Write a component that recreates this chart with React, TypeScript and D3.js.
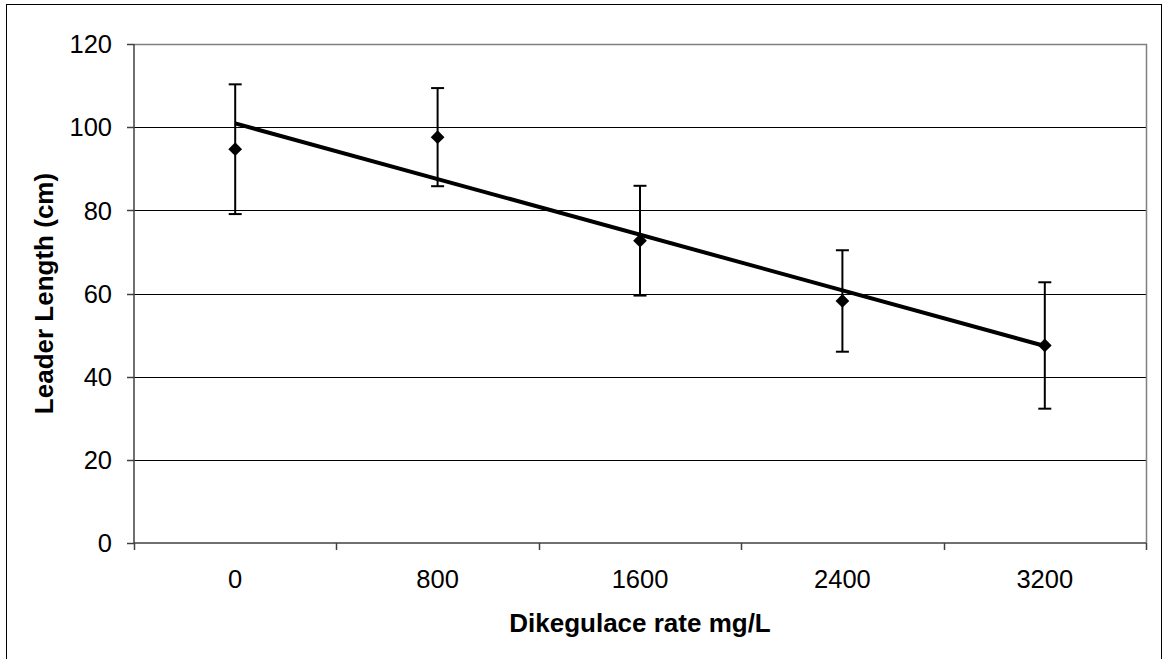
import React, { useEffect, useRef } from 'react';
import * as d3 from 'd3';

const categories = ['0', '800', '1600', '2400', '3200'];
const means = [94.7, 97.6, 72.7, 58.2, 47.5];
const errors = [15.6, 11.8, 13.2, 12.2, 15.2];
const yTicks = [0, 20, 40, 60, 80, 100, 120];

const width = 1163;
const height = 659;
const font = 'Liberation Sans, Arial, sans-serif';

export default function App() {
  const ref = useRef<SVGSVGElement>(null);

  useEffect(() => {
    const svg = d3.select(ref.current);
    svg.selectAll('*').remove();

    const left = 134;
    const right = 1146;
    const top = 44;
    const bottom = 543;

    const x = d3.scaleBand().domain(categories).range([left, right]).padding(0);
    const y = d3.scaleLinear().domain([0, 120]).range([bottom, top]);
    const cx = (c: string) => (x(c) as number) + x.bandwidth() / 2;

    // outer chart border
    svg
      .append('rect')
      .attr('x', 6.5)
      .attr('y', 4.5)
      .attr('width', 1155)
      .attr('height', 700)
      .attr('fill', 'none')
      .attr('stroke', '#000')
      .attr('stroke-width', 1);

    // gridlines
    svg
      .append('g')
      .selectAll('line')
      .data(yTicks.filter((t) => t > 0 && t < 120))
      .enter()
      .append('line')
      .attr('x1', left)
      .attr('x2', right)
      .attr('y1', (d) => Math.round(y(d)) + 0.5)
      .attr('y2', (d) => Math.round(y(d)) + 0.5)
      .attr('stroke', '#000')
      .attr('stroke-width', 1);

    // plot border top / right
    svg
      .append('path')
      .attr('d', `M${left},${top + 0.5}H${right + 0.5}V${bottom}`)
      .attr('fill', 'none')
      .attr('stroke', '#808080')
      .attr('stroke-width', 1.5);

    // y axis
    const yAxis = svg.append('g').attr('transform', `translate(${left},0)`);
    yAxis
      .append('line')
      .attr('x1', 0)
      .attr('x2', 0)
      .attr('y1', top)
      .attr('y2', bottom)
      .attr('stroke', '#404040')
      .attr('stroke-width', 1.5);
    yAxis
      .selectAll('.tick')
      .data(yTicks)
      .enter()
      .append('line')
      .attr('x1', -7)
      .attr('x2', 0)
      .attr('y1', (d) => Math.round(y(d)) + 0.5)
      .attr('y2', (d) => Math.round(y(d)) + 0.5)
      .attr('stroke', '#404040')
      .attr('stroke-width', 1.5);
    yAxis
      .selectAll('text')
      .data(yTicks)
      .enter()
      .append('text')
      .attr('x', -22)
      .attr('y', (d) => y(d))
      .attr('dy', '0.36em')
      .attr('text-anchor', 'end')
      .style('font-family', font)
      .style('font-size', '25.5px')
      .text((d) => d);

    // x axis
    const xAxis = svg.append('g').attr('transform', `translate(0,${bottom})`);
    xAxis
      .append('line')
      .attr('x1', left)
      .attr('x2', right)
      .attr('y1', 0)
      .attr('y2', 0)
      .attr('stroke', '#404040')
      .attr('stroke-width', 1.5);
    const bounds = categories.map((c) => x(c) as number).concat([right]);
    xAxis
      .selectAll('.tick')
      .data(bounds)
      .enter()
      .append('line')
      .attr('x1', (d) => Math.round(d) + 0.5)
      .attr('x2', (d) => Math.round(d) + 0.5)
      .attr('y1', 0)
      .attr('y2', 7)
      .attr('stroke', '#404040')
      .attr('stroke-width', 1.5);
    xAxis
      .selectAll('text')
      .data(categories)
      .enter()
      .append('text')
      .attr('x', (d) => cx(d))
      .attr('y', 45)
      .attr('text-anchor', 'middle')
      .style('font-family', font)
      .style('font-size', '25.5px')
      .text((d) => d);

    // axis titles
    svg
      .append('text')
      .attr('x', (left + right) / 2)
      .attr('y', 632)
      .attr('text-anchor', 'middle')
      .style('font-family', font)
      .style('font-size', '26px')
      .style('font-weight', 'bold')
      .text('Dikegulace rate mg/L');
    svg
      .append('text')
      .attr('transform', `translate(53,${(top + bottom) / 2}) rotate(-90)`)
      .attr('text-anchor', 'middle')
      .style('font-family', font)
      .style('font-size', '26px')
      .style('font-weight', 'bold')
      .text('Leader Length (cm)');

    // error bars
    const eb = svg
      .append('g')
      .selectAll('g')
      .data(categories)
      .enter()
      .append('g')
      .attr('stroke', '#000')
      .attr('stroke-width', 2);
    eb.append('line')
      .attr('x1', (d) => cx(d))
      .attr('x2', (d) => cx(d))
      .attr('y1', (d, i) => y(means[i] + errors[i]))
      .attr('y2', (d, i) => y(means[i] - errors[i]));
    eb.append('line')
      .attr('x1', (d) => cx(d) - 6.5)
      .attr('x2', (d) => cx(d) + 6.5)
      .attr('y1', (d, i) => y(means[i] + errors[i]))
      .attr('y2', (d, i) => y(means[i] + errors[i]));
    eb.append('line')
      .attr('x1', (d) => cx(d) - 6.5)
      .attr('x2', (d) => cx(d) + 6.5)
      .attr('y1', (d, i) => y(means[i] - errors[i]))
      .attr('y2', (d, i) => y(means[i] - errors[i]));

    // linear trendline through the means
    const idx = means.map((_, i) => i);
    const mx = d3.mean(idx) as number;
    const my = d3.mean(means) as number;
    const slope =
      (d3.sum(idx, (i) => (i - mx) * (means[i] - my)) as number) /
      (d3.sum(idx, (i) => (i - mx) * (i - mx)) as number);
    const trend = (i: number) => my + slope * (i - mx);
    const line = d3
      .line<number>()
      .x((i) => cx(categories[i]))
      .y((i) => y(trend(i)));
    svg
      .append('path')
      .attr('d', line([0, categories.length - 1]))
      .attr('fill', 'none')
      .attr('stroke', '#000')
      .attr('stroke-width', 4);

    // diamond markers
    const diamond = d3.symbol().type(d3.symbolDiamond2).size(120);
    svg
      .append('g')
      .selectAll('path')
      .data(categories)
      .enter()
      .append('path')
      .attr('d', diamond)
      .attr('transform', (d, i) => `translate(${cx(d)},${y(means[i])})`)
      .attr('fill', '#000');
  }, []);

  return (
    <svg
      ref={ref}
      width={width}
      height={height}
      style={{ position: 'absolute', left: 0, top: 0, background: '#fff' }}
    />
  );
}
